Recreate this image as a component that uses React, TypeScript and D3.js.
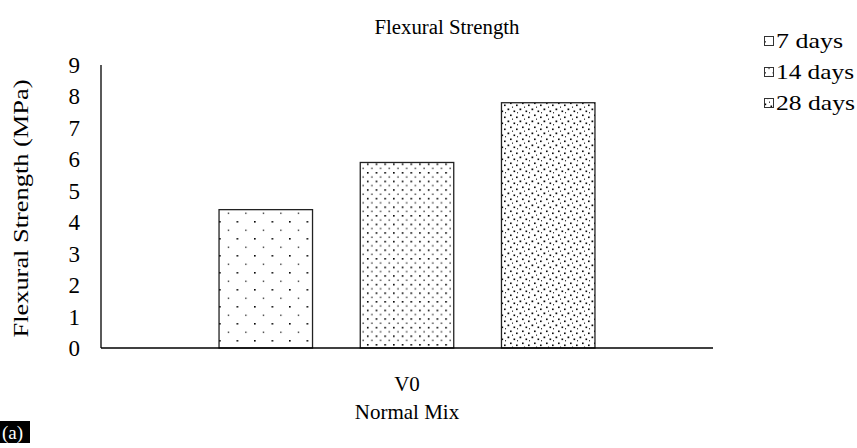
import * as d3 from 'd3'
import React from 'react'

// chart data
const categories = ['V0']
const seriesNames = ['7 days', '14 days', '28 days']
const seriesValues = [[4.4], [5.9], [7.8]]
const yTicks = [0, 1, 2, 3, 4, 5, 6, 7, 8, 9]

const W = 857
const H = 448
const font = 'Liberation Serif'
const plot = { left: 101, right: 713, top: 65, bottom: 348 }

const patternIds = ['pat7', 'pat14', 'pat28']
// stretched legend text widths in the source picture
const legendTextLen = [67, 78, 79]

const App = (): JSX.Element => {
    const y = d3.scaleLinear().domain([0, 9]).range([plot.bottom, plot.top])
    const x0 = d3
        .scaleBand<string>()
        .domain(categories)
        .range([plot.left, plot.right])
        .paddingInner(0)
        .paddingOuter(0.314)
    const x1 = d3
        .scaleBand<string>()
        .domain(seriesNames)
        .range([0, x0.bandwidth()])
        .paddingInner(0.338)
        .paddingOuter(0)

    return (
        <svg width={W} height={H} style={{ position: 'absolute', left: 0, top: 0 }} fontFamily={font}>
            <defs>
                <pattern id="pat7" patternUnits="userSpaceOnUse" width={17.5} height={17}>
                    <rect width={17.5} height={17} fill="white" />
                    <rect x={0} y={0} width={1.6} height={1.6} fill="black" />
                    <rect x={8.75} y={8.5} width={1.2} height={1.6} fill="#333" />
                </pattern>
                <pattern id="pat14" patternUnits="userSpaceOnUse" width={8.7} height={8.6}>
                    <rect width={8.7} height={8.6} fill="white" />
                    <rect x={0} y={0} width={1.6} height={1.6} fill="black" />
                    <rect x={4.35} y={4.3} width={1.2} height={1.5} fill="#222" />
                </pattern>
                <pattern id="pat28" patternUnits="userSpaceOnUse" width={12} height={12}>
                    <rect width={12} height={12} fill="white" />
                    <rect x={0.5} y={0.5} width={1.7} height={1.7} fill="black" />
                    <rect x={6.5} y={2.5} width={1.6} height={1.6} fill="black" />
                    <rect x={3} y={6.5} width={1.6} height={1.6} fill="black" />
                    <rect x={9} y={8.5} width={1.6} height={1.6} fill="black" />
                    <rect x={10} y={4} width={1} height={1.4} fill="#333" />
                    <rect x={5} y={10.5} width={1} height={1.4} fill="#333" />
                </pattern>
            </defs>

            <rect width={W} height={H} fill="white" />

            <text x={447} y={34} textAnchor="middle" fontSize={20} textLength={145} lengthAdjust="spacingAndGlyphs">
                Flexural Strength
            </text>

            {/* bars */}
            {categories.map((c, ci) => (
                <g key={c} transform={`translate(${x0(c)},0)`}>
                    {seriesNames.map((s, si) => (
                        <rect
                            key={s}
                            x={x1(s)}
                            y={y(seriesValues[si][ci])}
                            width={x1.bandwidth()}
                            height={y(0) - y(seriesValues[si][ci])}
                            fill={`url(#${patternIds[si]})`}
                            stroke="#222"
                            strokeWidth={1.3}
                        />
                    ))}
                </g>
            ))}

            {/* axes */}
            <line x1={plot.left} x2={plot.left} y1={plot.top} y2={plot.bottom} stroke="black" strokeWidth={1.3} />
            <line x1={plot.left} x2={plot.right} y1={plot.bottom} y2={plot.bottom} stroke="black" strokeWidth={1.3} />
            {yTicks.map((t) => (
                <text key={t} x={80} y={y(t)} dy="0.35em" textAnchor="end" fontSize={23}>
                    {t}
                </text>
            ))}
            {categories.map((c) => (
                <text key={c} x={(x0(c) ?? 0) + x0.bandwidth() / 2} y={391} textAnchor="middle" fontSize={21}>
                    {c}
                </text>
            ))}
            <text x={(plot.left + plot.right) / 2} y={419} textAnchor="middle" fontSize={21}>
                Normal Mix
            </text>
            <text
                transform={`translate(28,${(plot.top + plot.bottom) / 2 + 2}) rotate(-90)`}
                textAnchor="middle"
                fontSize={21}
                textLength={258}
                lengthAdjust="spacingAndGlyphs"
            >
                Flexural Strength (MPa)
            </text>

            {/* legend */}
            {seriesNames.map((s, i) => (
                <g key={s} transform={`translate(764,${41 + i * 31})`}>
                    <rect x={0.5} y={-4.5} width={9} height={9} fill={`url(#${patternIds[i]})`} stroke="#333" strokeWidth={1} />
                    <text
                        x={12}
                        y={0}
                        dy="0.35em"
                        fontSize={21}
                        textLength={legendTextLen[i]}
                        lengthAdjust="spacingAndGlyphs"
                    >
                        {s}
                    </text>
                </g>
            ))}

            {/* panel tag */}
            <rect x={0} y={421} width={30} height={22} fill="black" />
            <text x={2} y={439} fill="white" fontSize={19}>
                (a)
            </text>
        </svg>
    )
}

export default App
